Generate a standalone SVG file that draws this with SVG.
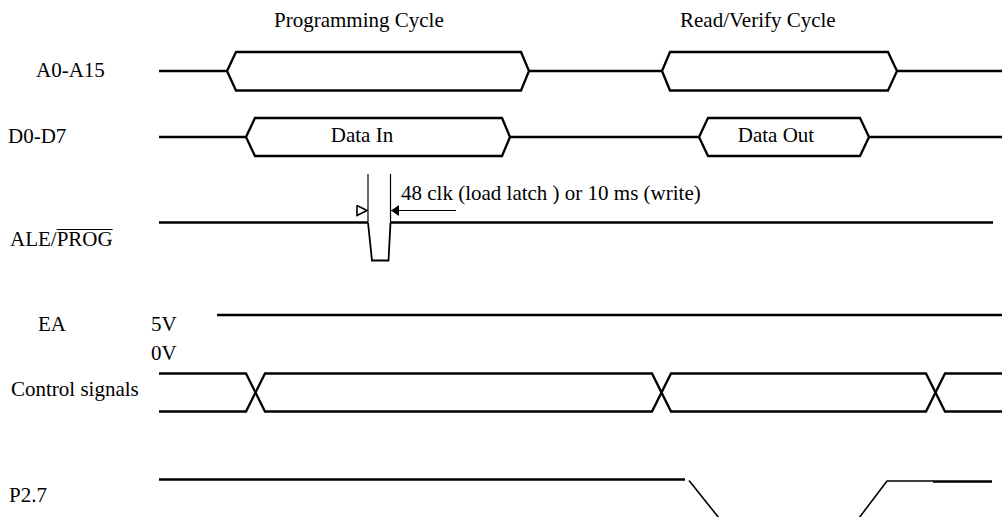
<svg xmlns="http://www.w3.org/2000/svg" width="1002" height="517" viewBox="0 0 1002 517">
  <defs>
    <style>
      text { font-family: "Liberation Serif", "Times New Roman", serif; font-size: 21px; fill: #000; }
      .sig { fill: none; stroke: #000; stroke-width: 2.3; stroke-linejoin: miter; }
      .thin { fill: none; stroke: #000; stroke-width: 1.2; }
    </style>
    <marker id="openTri" viewBox="0 0 12 12" refX="11" refY="6" markerWidth="12" markerHeight="12" markerUnits="userSpaceOnUse" orient="auto">
      <path d="M1,1 L11,6 L1,11 Z" fill="#fff" stroke="#000" stroke-width="1.6"/>
    </marker>
    <marker id="fillTri" viewBox="0 0 10 12" refX="9" refY="6" markerWidth="10" markerHeight="12" markerUnits="userSpaceOnUse" orient="auto">
      <path d="M1,0.5 L9,6 L1,11.5 Z" fill="#000"/>
    </marker>
  </defs>
  <rect width="1002" height="517" fill="#fff"/>

  <g id="titles">
    <text x="274" y="27">Programming Cycle</text>
    <text x="680" y="27">Read/Verify Cycle</text>
  </g>

  <g id="sig-addr">
    <text x="36" y="77">A0-A15</text>
    <path class="sig" d="M159,71 H227 L236,52 H521 L529,71 L521,90.5 H236 L227,71"/>
    <path class="sig" d="M529,71 H662 L670,52 H888 L897,71 L888,90.5 H670 L662,71"/>
    <path class="sig" d="M897,71 H1002"/>
  </g>

  <g id="sig-data">
    <text x="8" y="143">D0-D7</text>
    <path class="sig" d="M159,137 H246 L255,118 H502 L510,137 L502,156 H255 L246,137"/>
    <text x="362" y="142" text-anchor="middle">Data In</text>
    <path class="sig" d="M510,137 H699 L708,118 H860 L869,137 L860,156 H708 L699,137"/>
    <text x="776" y="142" text-anchor="middle">Data Out</text>
    <path class="sig" d="M869,137 H1002"/>
  </g>

  <g id="sig-ale">
    <text x="10" y="246">ALE/PROG</text>
    <line x1="56.7" y1="229.5" x2="112.7" y2="229.5" stroke="#000" stroke-width="1.1"/>
    <path class="sig" d="M159,222.5 H368"/>
    <path class="thin" d="M368,222.5 L372,260.5 H388.5 L390.5,222.5" style="stroke-width:1.8"/>
    <path class="sig" d="M390.5,222.5 H993"/>
  </g>

  <g id="connectors">
    <line class="thin" x1="368" y1="174" x2="368" y2="222"/>
    <line class="thin" x1="390.5" y1="174" x2="390.5" y2="222"/>
    <line x1="350" y1="210.5" x2="367" y2="210.5" stroke="none" marker-end="url(#openTri)"/>
    <line class="thin" x1="456" y1="210.5" x2="391" y2="210.5" marker-end="url(#fillTri)"/>
    <text x="401" y="200">48 clk (load latch ) or 10 ms (write)</text>
  </g>

  <g id="sig-ea">
    <text x="38" y="331">EA</text>
    <text x="151" y="331">5V</text>
    <text x="151" y="360">0V</text>
    <path class="sig" d="M217,315 H1002"/>
  </g>

  <g id="sig-ctrl">
    <text x="11" y="396">Control signals</text>
    <path class="sig" d="M159,373.5 H246 L265,411.5 H652 L671,373.5 H926 L945,411.5 H1002"/>
    <path class="sig" d="M159,411.5 H246 L265,373.5 H652 L671,411.5 H926 L945,373.5 H1002"/>
  </g>

  <g id="sig-p27">
    <text x="9" y="502">P2.7</text>
    <path class="sig" d="M159,479.5 H685"/>
    <path class="thin" d="M689,480.5 L719,518" style="stroke-width:1.6"/>
    <path class="thin" d="M859,518 L887,481 H933" style="stroke-width:1.6"/>
    <path class="sig" d="M933,481.5 H992"/>
  </g>
</svg>
